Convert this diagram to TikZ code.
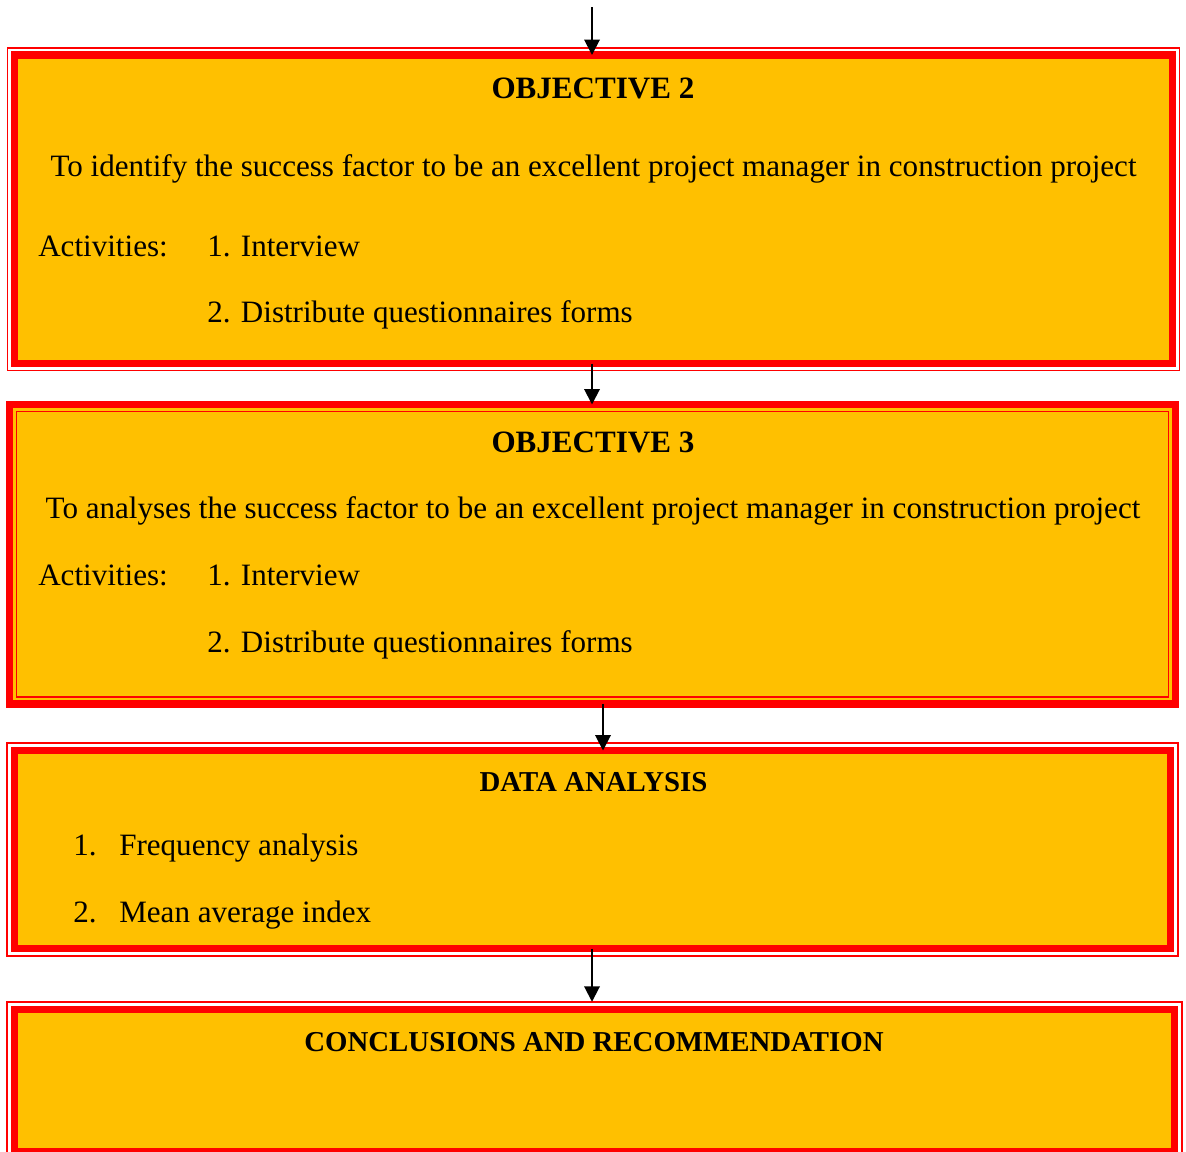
\documentclass[tikz,border=0pt]{standalone}
\usepackage{fontspec}
\setmainfont{Liberation Serif}
\usepackage{xcolor}
\usepackage{tikz}
\usetikzlibrary{arrows.meta,calc,fit,positioning}
\definecolor{boxred}{RGB}{255,0,0}
\definecolor{boxorange}{RGB}{255,192,0}
\newcommand{\boxfont}{\fontsize{22.1}{26}\selectfont}
\newcommand{\smallboxfont}{\fontsize{20.5}{24}\selectfont}
\tikzset{%
	objbox/.style   = {draw=boxred, line width=5pt, fill=boxorange, rectangle, inner sep=0pt, outer sep=0pt},
	outerline/.style = {draw=boxred, line width=1.3pt, rectangle, inner sep=5pt, outer sep=0pt}, % thin line round a box
	innerline/.style = {draw=boxred, line width=1pt, rectangle, inner sep=-5pt, outer sep=0pt}, % thin line inside a box
	heading/.style  = {font=\boxfont\bfseries, anchor=base, inner sep=0pt},
	smallheading/.style = {heading, font=\smallboxfont\bfseries},
	txt/.style      = {font=\boxfont, anchor=base west, inner sep=0pt},
	centred/.style  = {font=\boxfont, anchor=base, inner sep=0pt},
	arrow/.style    = {line width=1.4pt, -{Triangle[length=11pt,width=11pt]}},
}

\begin{document}
\begin{tikzpicture}[x=0.025cm, y=-0.025cm]
	\useasboundingbox (0,0) rectangle (1186,1152);
	\clip (0,0) rectangle (1186,1152);
	% boxes
	\node[objbox, fit={(14.5,55) (1172.5,363.5)}] (obj2) {};
	\node[outerline, fit=(obj2)] (obj2out) {};
	\node[objbox, fit={(9.5,404.5) (1175.5,704)}] (obj3) {};
	\node[innerline, fit=(obj3)] (obj3in) {};
	\node[objbox, fit={(14.5,750.5) (1170.5,948.5)}] (data) {};
	\node[outerline, inner sep=5.5pt, fit=(data)] (dataout) {};
	\node[objbox, fit={(14.5,1009.5) (1174.5,1151.5)}] (concl) {};
	\node[outerline, inner sep=5.5pt, fit=(concl)] (conclout) {};
	% objective 2
	\node[heading] (o2head) at (593,98) {OBJECTIVE 2};
	\node[centred] (o2aim) at (593.5,176) {To identify the success factor to be an excellent project manager in construction project};
	\node[txt] (o2act) at (38,256) {Activities:};
	\node[txt] (o2one) at (207,256) {1. Interview};
	\node[txt] (o2two) at (207,322) {2. Distribute questionnaires forms};
	% objective 3
	\node[heading] (o3head) at (593,452) {OBJECTIVE 3};
	\node[centred] (o3aim) at (593,518) {To analyses the success factor to be an excellent project manager in construction project};
	\node[txt] (o3act) at (38,585) {Activities:};
	\node[txt] (o3one) at (207,585) {1. Interview};
	\node[txt] (o3two) at (207,652) {2. Distribute questionnaires forms};
	% data analysis
	\node[smallheading] (dahead) at (593.5,791) {DATA ANALYSIS};
	\node[txt] (danum1) at (73,855) {1.};
	\node[txt] (daone) at (119,855) {Frequency analysis};
	\node[txt] (danum2) at (73,922) {2.};
	\node[txt] (datwo) at (119,922) {Mean average index};
	% conclusions
	\node[smallheading] (cohead) at (594,1051) {CONCLUSIONS AND RECOMMENDATION};
	% arrows
	\coordinate (top) at (592,7);
	\draw[arrow] (top) -- (top |- obj2.north);
	\draw[arrow] ($(obj2.south)+(-1.5,0)$) coordinate (a2) -- (a2 |- obj3.north);
	\draw[arrow] ($(obj3.south)+(10.5,0)$) coordinate (a3) -- (a3 |- data.north);
	\draw[arrow] ($(data.south)+(-0.5,0)$) coordinate (a4) -- (a4 |- conclout.north);
\end{tikzpicture}
\end{document}
